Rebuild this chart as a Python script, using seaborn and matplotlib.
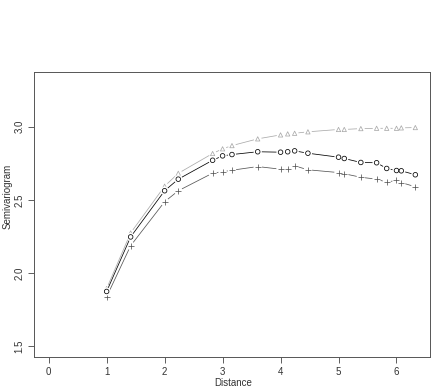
import numpy as np
import pandas as pd
import matplotlib
matplotlib.use("Agg")
import matplotlib.pyplot as plt
import seaborn as sns

# lag distances (sqrt of integer grid lags)
distance = [1.0, 1.414, 2.0, 2.236, 2.828, 3.0, 3.162, 3.606, 4.0, 4.123,
            4.243, 4.472, 5.0, 5.099, 5.385, 5.657, 5.831, 6.0, 6.083, 6.325]

series_triangle = [1.895, 2.274, 2.593, 2.681, 2.816, 2.848, 2.870, 2.916, 2.943, 2.950,
                   2.954, 2.964, 2.980, 2.980, 2.986, 2.988, 2.988, 2.988, 2.991, 2.993]
series_circle = [1.875, 2.247, 2.562, 2.641, 2.770, 2.800, 2.809, 2.828, 2.825, 2.828,
                 2.834, 2.818, 2.791, 2.782, 2.755, 2.753, 2.714, 2.700, 2.698, 2.671]
series_plus = [1.839, 2.187, 2.487, 2.562, 2.682, 2.692, 2.702, 2.727, 2.709, 2.707,
               2.732, 2.705, 2.686, 2.678, 2.654, 2.641, 2.620, 2.634, 2.618, 2.589]

x_ticks = [0, 1, 2, 3, 4, 5, 6]
y_ticks = [1.5, 2.0, 2.5, 3.0]

sns.set_style("white")
plt.rcParams['font.family'] = ['Liberation Sans', 'DejaVu Sans']

fig = plt.figure(figsize=(4.36, 3.87), dpi=100)
W, H = 436, 387
ax = fig.add_axes([34 / W, 1 - 357 / H, (430 - 34) / W, (357 - 72) / H])

specs = [
    ("triangle", series_triangle, "#aaaaaa", "^", 3.1),
    ("plus", series_plus, "#555555", "+", 3.4),
    ("circle", series_circle, "#000000", "o", 3.3),
]

z = 2
for name, vals, col, mk, ms in specs:
    df = pd.DataFrame({"Distance": distance, "Semivariogram": vals})
    sns.lineplot(data=df, x="Distance", y="Semivariogram", ax=ax, color=col,
                 linewidth=0.55, zorder=z, estimator=None, sort=False)
    # gap around points (R type="b" style)
    sns.scatterplot(data=df, x="Distance", y="Semivariogram", ax=ax, color="white",
                    marker="o", s=(ms * 1.8) ** 2, edgecolor="none", linewidth=0,
                    zorder=z + 0.5)
    if mk == "+":
        sns.scatterplot(data=df, x="Distance", y="Semivariogram", ax=ax, color=col,
                        marker="+", s=ms ** 2 * 1.4, linewidth=0.55, zorder=z + 1)
    else:
        sns.scatterplot(data=df, x="Distance", y="Semivariogram", ax=ax,
                        marker=mk, s=ms ** 2, facecolor="none", edgecolor=col,
                        linewidth=0.55, zorder=z + 1)
    z += 2

xr = distance[-1] - 0
ax.set_xlim(0 - 0.04 * xr, distance[-1] + 0.04 * xr)
ax.set_ylim(1.5 - 0.04 * 1.8, 3.3 + 0.04 * 1.8)

ax.set_xticks(x_ticks)
ax.set_xticklabels([str(t) for t in x_ticks])
ax.set_yticks(y_ticks)
ax.set_yticklabels([f"{t:.1f}" for t in y_ticks], rotation=90, va="center")

ax.tick_params(axis="both", direction="out", length=4, width=0.6, color="#444444",
               labelsize=7, labelcolor="#333333", pad=3, bottom=True, left=True)

for s in ax.spines.values():
    s.set_color("#555555")
    s.set_linewidth(0.7)

ax.set_xlabel("")
ax.set_ylabel("")
fig.text(233 / W, 1 - 386 / H, "Distance", ha="center", va="baseline",
         fontsize=7, color="#333333")
fig.text(8 / W, 1 - 196 / H, "Semivariogram", ha="center", va="center",
         rotation=90, fontsize=7, color="#333333")

fig.savefig("out.png", dpi=100)
